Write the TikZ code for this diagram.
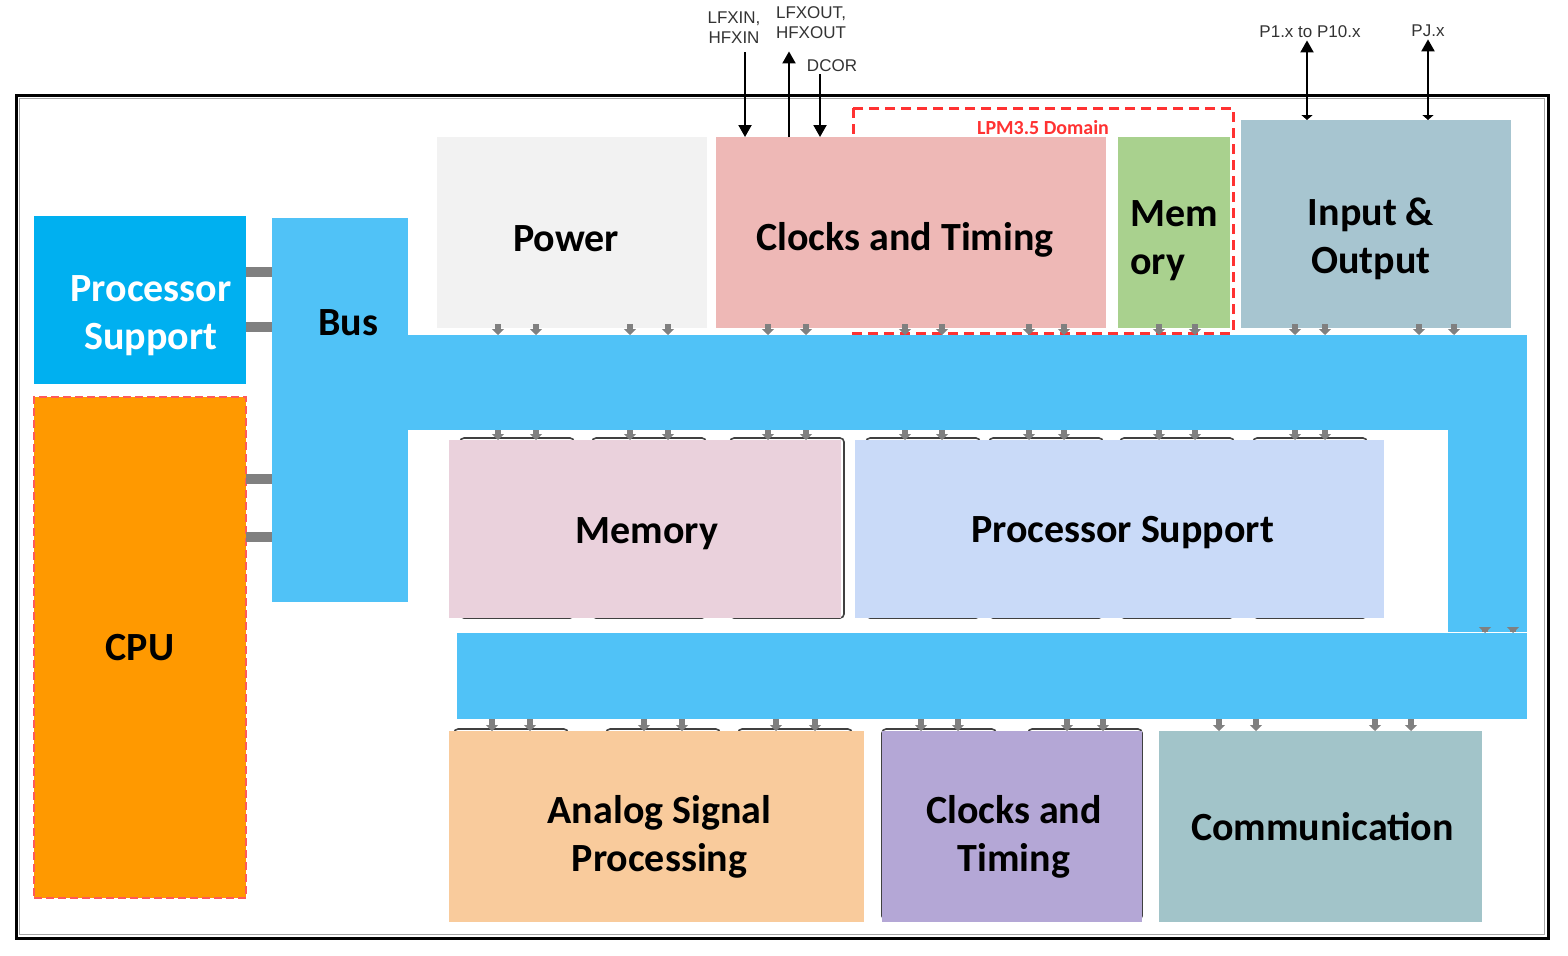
\documentclass[tikz,border=0pt]{standalone}
\usepackage{fontspec}
\setmainfont{Carlito}
\newfontfamily\pinfont{Liberation Sans}
\usetikzlibrary{arrows.meta}
\definecolor{busBlue}{RGB}{80,194,247}
\definecolor{psBlue}{RGB}{0,176,240}
\definecolor{cpuOrange}{RGB}{255,153,0}
\definecolor{cpuRed}{RGB}{255,90,90}
\definecolor{lpmRed}{RGB}{255,50,50}
\definecolor{powerGrey}{RGB}{242,242,242}
\definecolor{clkPink}{RGB}{238,184,182}
\definecolor{memGreen}{RGB}{169,209,142}
\definecolor{ioBlue}{RGB}{167,197,208}
\definecolor{memPink}{RGB}{234,209,220}
\definecolor{psLight}{RGB}{201,218,248}
\definecolor{aspPeach}{RGB}{249,203,156}
\definecolor{clkPurple}{RGB}{180,167,214}
\definecolor{commTeal}{RGB}{162,196,201}
\definecolor{linkGrey}{RGB}{128,128,128}
\begin{document}
\begin{tikzpicture}[x=0.5pt, y=-0.5pt,
    blockStyle/.style={rectangle, anchor=north west, inner sep=0pt, outer sep=0pt},
    blockText/.style={inner sep=0pt, align=center, font=\bfseries\fontsize{20}{24}\selectfont},
    busStyle/.style={rectangle, anchor=north west, inner sep=0pt, outer sep=0pt, fill=busBlue},
    linkStyle/.style={draw=linkGrey, line width=3pt, -{Triangle[width=6pt,length=3pt]}},
    sideLinkStyle/.style={draw=linkGrey, line width=5pt},
    sigStyle/.style={line width=1pt, -{Triangle[width=6.5pt,length=6pt]}},
    pinStyle/.style={line width=1pt, {Triangle[width=5.5pt,length=2.5pt]}-{Triangle[width=6.5pt,length=6pt]}},
    pinLabel/.style={font=\pinfont\fontsize{8.5}{10}\selectfont, text=black!80, inner sep=1pt, align=center},
    hiddenStyle/.style={draw=black!75, line width=0.8pt, rounded corners=2pt},
    lpmStyle/.style={draw=lpmRed, line width=1.5pt, dash pattern=on 5pt off 3pt}]
    \useasboundingbox (0,0) rectangle (1568,955);

    \draw[lpmStyle] (853,108) rectangle (1233,333);
    \foreach \c in {517,649,787,923,1046,1177,1310}
        \draw[hiddenStyle] (\c-57,438) rectangle (\c+57,618);
    \foreach \c in {511,663,795,939,1085}
        \draw[hiddenStyle] (\c-57,729) rectangle (\c+57,920);

    \node[blockStyle, fill=psBlue, minimum width=106pt, minimum height=84pt,
        label={[blockText, name=ps_left_txt, text=white, xshift=5.5pt, yshift=-8pt]center:{Processor\\Support}}] (ps_left) at (34,216) {};
    \node[blockStyle, fill=cpuOrange, draw=cpuRed, line width=1pt, dash pattern=on 4pt off 2pt, minimum width=106pt, minimum height=250.5pt,
        label={[blockText, name=cpu_txt]center:CPU}] (cpu) at (34,397) {};

    \node[blockStyle, fill=powerGrey, minimum width=135pt, minimum height=95.5pt,
        label={[blockText, name=power_txt, xshift=-3pt, yshift=-3pt]center:Power}] (power) at (437,137) {};
    \node[blockStyle, fill=clkPink, minimum width=195pt, minimum height=95.5pt,
        label={[blockText, name=clk_top_txt, xshift=-3pt, yshift=-3.5pt]center:Clocks and Timing}] (clk_top) at (716,137) {};
    \node[blockStyle, fill=memGreen, minimum width=56pt, minimum height=95.5pt,
        label={[blockText, name=mem_top_txt, align=left, yshift=-4pt]center:{Mem\\ory}}] (mem_top) at (1118,137) {};
    \node[blockStyle, fill=ioBlue, minimum width=135pt, minimum height=104pt,
        label={[blockText, name=io_txt, xshift=-2.5pt, yshift=-7.5pt]center:{Input \&\\Output}}] (io) at (1241,120) {};

    \node[blockStyle, fill=memPink, minimum width=196pt, minimum height=89pt,
        label={[blockText, name=mem_mid_txt, xshift=1pt, yshift=-2.5pt]center:Memory}] (mem_mid) at (449,440) {};
    \node[blockStyle, fill=psLight, minimum width=264.5pt, minimum height=89pt,
        label={[blockText, name=ps_mid_txt, xshift=1.5pt, yshift=-2pt]center:Processor Support}] (ps_mid) at (855,440) {};

    \node[blockStyle, fill=aspPeach, minimum width=207.5pt, minimum height=95.5pt,
        label={[blockText, name=asp_txt, xshift=1.5pt, yshift=-5pt]center:{Analog Signal\\Processing}}] (asp) at (449,731) {};
    \node[blockStyle, fill=clkPurple, minimum width=130pt, minimum height=95.5pt,
        label={[blockText, name=clk_low_txt, xshift=1pt, yshift=-5pt]center:{Clocks and\\Timing}}] (clk_low) at (882,731) {};
    \node[blockStyle, fill=commTeal, minimum width=161.5pt, minimum height=95.5pt,
        label={[blockText, name=comm_txt, xshift=1pt]center:Communication}] (comm) at (1159,731) {};

    \node[busStyle, minimum width=68pt,  minimum height=192pt]  (bus_v)   at ( 272,218) {};
    \node[busStyle, minimum width=563.5pt, minimum height=47.5pt] (bus_h) at ( 400,335) {};
    \node[busStyle, minimum width=39.5pt, minimum height=101pt] (bus_r)   at (1448,430) {};
    \node[busStyle, minimum width=535pt, minimum height=43pt]   (bus_low) at ( 457,633) {};
    \node[blockText] (lbl_bus) at (348,323) {Bus};

    \foreach \y in {272,327}
        \draw[sideLinkStyle] (ps_left.east |- 0,\y) -- (bus_v.west |- 0,\y);
    \foreach \y in {479,537}
        \draw[sideLinkStyle] (cpu.east |- 0,\y) -- (bus_v.west |- 0,\y);
    \foreach \x/\blk in {498/power, 536/power, 630/power, 668/power, 768/clk_top, 806/clk_top, 905/clk_top, 942/clk_top, 1029/clk_top, 1064/clk_top, 1159/mem_top, 1195/mem_top, 1295/io, 1325/io, 1419/io, 1454/io}
        \draw[linkStyle] ([yshift=2pt]\blk.south -| \x,0) -- (bus_h.north -| \x,0);
    \foreach \x/\blk in {498/mem_mid, 536/mem_mid, 630/mem_mid, 668/mem_mid, 768/mem_mid, 806/mem_mid, 905/ps_mid, 942/ps_mid, 1029/ps_mid, 1064/ps_mid, 1159/ps_mid, 1195/ps_mid, 1295/ps_mid, 1325/ps_mid}
        \draw[linkStyle] (bus_h.south -| \x,0) -- (\blk.north -| \x,0);
    \foreach \x/\blk in {492/asp, 530/asp, 644/asp, 682/asp, 776/asp, 815/asp, 921/clk_low, 958/clk_low, 1067/clk_low, 1103/clk_low, 1219/comm, 1256/comm, 1375/comm, 1411/comm}
        \draw[linkStyle] (bus_low.south -| \x,0) -- (\blk.north -| \x,0);
    \foreach \x in {1485,1513}
        \draw[linkStyle] (bus_r.south -| \x,0) -- (bus_low.north -| \x,0);

    \draw[line width=1.5pt] (16,95) rectangle (1548,938);
    \draw[black!35, line width=0.8pt] (19.5,98.5) rectangle (1544.5,934.5);

    \node[pinLabel] (lbl_lfxin)  at ( 734,28) {LFXIN,\\HFXIN};
    \node[pinLabel] (lbl_lfxout) at ( 811,23) {LFXOUT,\\HFXOUT};
    \node[pinLabel] (lbl_dcor)   at ( 832,66) {DCOR};
    \node[pinLabel] (lbl_p1)     at (1310,32) {P1.x to P10.x};
    \node[pinLabel] (lbl_pj)     at (1428,31) {PJ.x};
    \draw[sigStyle] ([yshift=-3pt]lbl_lfxin.south -| 745,0) -- (clk_top.north -| 745,0);
    \draw[sigStyle] (clk_top.north -| 789,0) -- ([yshift=-5pt]lbl_lfxout.south -| 789,0);
    \draw[sigStyle] (lbl_dcor.south -| 820,0) -- (clk_top.north -| 820,0);
    \draw[pinStyle] (io.north -| 1307,0) -- (lbl_p1.south -| 1307,0);
    \draw[pinStyle] (io.north -| 1428,0) -- (lbl_pj.south -| 1428,0);

    \node[font=\bfseries\fontsize{10}{12}\selectfont, text=lpmRed, inner sep=0pt] (lbl_lpm) at (1043,128) {LPM3.5 Domain};
\end{tikzpicture}
\end{document}
